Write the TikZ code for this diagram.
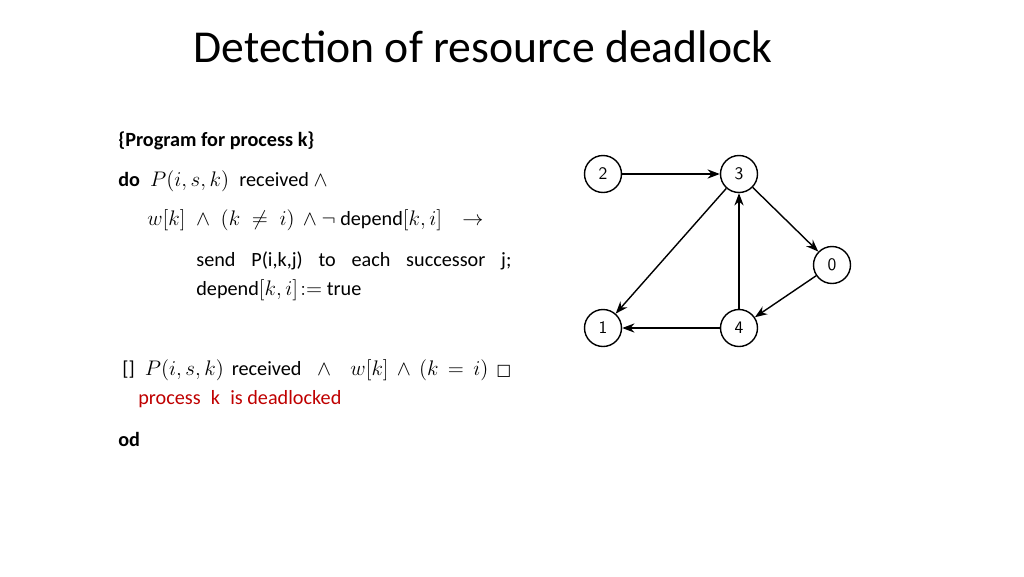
\documentclass[tikz,border=0pt]{standalone}
\usepackage{fontspec}
\setmainfont{Carlito}
\newfontfamily\symfont{DejaVu Sans}
\usetikzlibrary{arrows.meta}
\begin{document}
\begin{tikzpicture}[x=0.02cm,y=-0.02cm,every node/.style={font=\fontsize{11.5}{14}\selectfont},
    proc/.style={circle,draw,thick,minimum size=0.74cm,inner sep=0pt,font=\sffamily},
    txt/.style={anchor=west,inner sep=0pt},
    edge/.style={-{Stealth[length=7pt]},thick}]
    \useasboundingbox (0,0) rectangle (1024,576);
    % Title
    \node (title) at (483,47) {\fontsize{26}{30}\selectfont Detection of resource deadlock};

    % Program text
    \node[txt] (prog) at (118,141) {\bfseries\{Program for process k\}};
    \node[txt] (do) at (118,181) {\textbf{do}\; $P(i,s,k)$\; received $\wedge$};
    \node[txt] (guard) at (147,220) {$w[k]\;\wedge\;(k\;\neq\;i)\,\wedge\neg$ depend$[k,i]$\quad $\rightarrow$};
    \node[txt] (send) at (196,261) {send\;\; P(i,k,j)\;\; to\;\; each\;\; successor\;\; j;};
    \node[txt] (dep) at (196,290) {depend$[k,i]\!:=$ true};
    \node[txt] (alt) at (122,370) {[]\; $P(i,s,k)$\, received\;\; $\wedge$\;\;\, $w[k]\,\wedge\,(k\,=\,i)$\, {\symfont\small □}};
    \node[txt,text=red!75!black] (dead) at (138,399) {process\; k\; is deadlocked};
    \node[txt] (od) at (118,439) {\bfseries od};

    % Graph
    \node[proc] (p2) at (603,174) {2};
    \node[proc] (p3) at (739,174) {3};
    \node[proc] (p0) at (832,265) {0};
    \node[proc] (p1) at (603,328) {1};
    \node[proc] (p4) at (739,328) {4};
    \draw[edge] (p2) -- (p3);
    \draw[edge] (p3) -- (p0);
    \draw[edge] (p3) -- (p1);
    \draw[edge] (p4) -- (p3);
    \draw[edge] (p0) -- (p4);
    \draw[edge] (p4) -- (p1);
\end{tikzpicture}
\end{document}
